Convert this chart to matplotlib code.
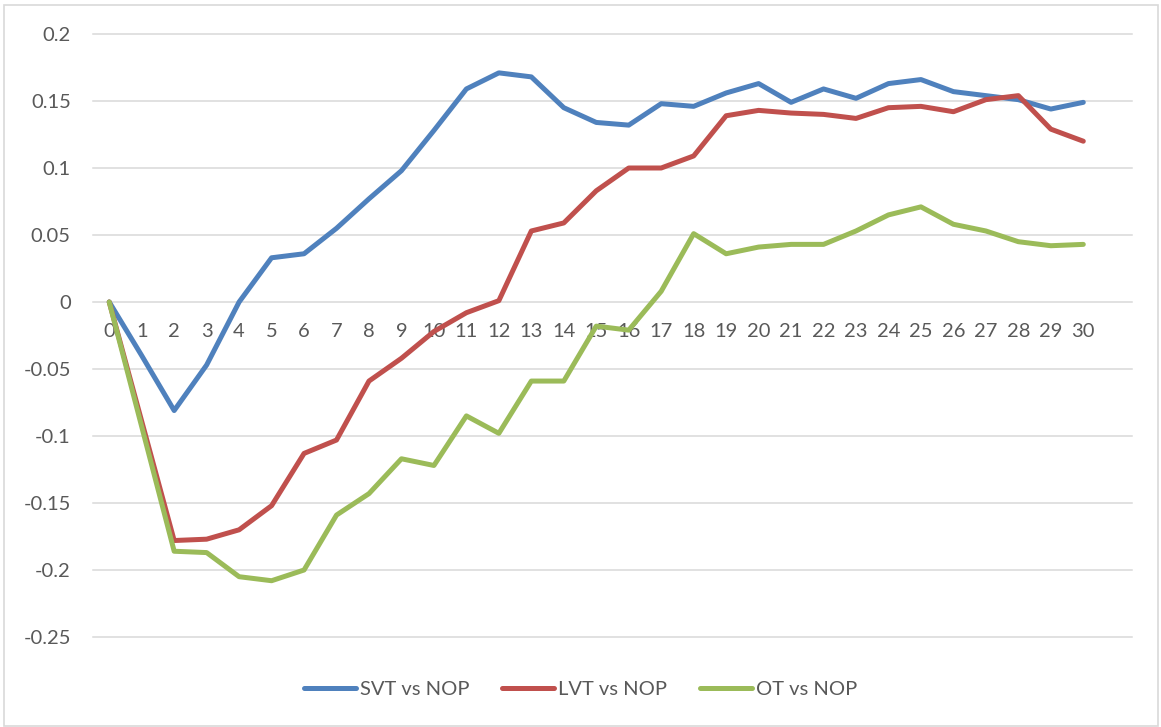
import matplotlib.pyplot as plt
from matplotlib.patches import Rectangle

BLUE = "#4F81BD"
RED = "#C0504D"
GREEN = "#9BBB59"
GRID = "#D9D9D9"
TEXT = "#595959"

periods = list(range(31))
svt_vs_nop = [0.0, -0.040, -0.081, -0.047, 0.000, 0.033, 0.036, 0.055, 0.077, 0.098,
              0.128, 0.159, 0.171, 0.168, 0.145, 0.134, 0.132, 0.148, 0.146, 0.156,
              0.163, 0.149, 0.159, 0.152, 0.163, 0.166, 0.157, 0.154, 0.151, 0.144,
              0.149]
lvt_vs_nop = [0.0, -0.089, -0.178, -0.177, -0.170, -0.152, -0.113, -0.103, -0.059, -0.042,
              -0.022, -0.008, 0.001, 0.053, 0.059, 0.083, 0.100, 0.100, 0.109, 0.139,
              0.143, 0.141, 0.140, 0.137, 0.145, 0.146, 0.142, 0.151, 0.154, 0.129,
              0.120]
ot_vs_nop = [0.0, -0.093, -0.186, -0.187, -0.205, -0.208, -0.200, -0.159, -0.143, -0.117,
             -0.122, -0.085, -0.098, -0.059, -0.059, -0.018, -0.021, 0.008, 0.051, 0.036,
             0.041, 0.043, 0.043, 0.053, 0.065, 0.071, 0.058, 0.053, 0.045, 0.042,
             0.043]
yticks = [-0.25, -0.2, -0.15, -0.1, -0.05, 0, 0.05, 0.1, 0.15, 0.2]
ytick_labels = ["-0.25", "-0.2", "-0.15", "-0.1", "-0.05", "0", "0.05", "0.1", "0.15", "0.2"]

plt.rcParams["font.family"] = ["Lato", "DejaVu Sans"]

W, H = 1161, 727
fig = plt.figure(figsize=(W / 100, H / 100), dpi=100, facecolor="white")
fig.patches.append(Rectangle((4 / W, 1 / H), 1154 / W, 721 / H, transform=fig.transFigure,
                             fill=False, edgecolor=GRID, linewidth=1.2))

ax = fig.add_axes([93 / W, 1 - 637 / H, 1039 / W, 603 / H])
ax.set_xlim(-0.5, 31.5)
ax.set_ylim(-0.25, 0.2)

for y in yticks:
    ax.axhline(y, color=GRID, linewidth=1.1, zorder=0, clip_on=False)

kw = dict(linewidth=3.6, solid_capstyle="round", solid_joinstyle="round")
ax.plot(periods, svt_vs_nop, color=BLUE, label="SVT vs NOP", zorder=3, **kw)
ax.plot(periods, lvt_vs_nop, color=RED, label="LVT vs NOP", zorder=3, **kw)
ax.plot(periods, ot_vs_nop, color=GREEN, label="OT vs NOP", zorder=3, **kw)

for s in ax.spines.values():
    s.set_visible(False)
ax.spines["bottom"].set_position(("data", 0))

ax.set_yticks(yticks)
ax.set_yticklabels(ytick_labels)
ax.set_xticks(periods)
ax.set_xticklabels([str(p) for p in periods])
ax.tick_params(axis="y", length=0, pad=16, labelsize=14.5, colors=TEXT)
ax.tick_params(axis="x", length=0, pad=15, labelsize=14.5, colors=TEXT)

leg = fig.legend(loc="center", bbox_to_anchor=(0.5, 1 - 689 / H), ncol=3, frameon=False,
                 fontsize=14.5, handlelength=2.6, handletextpad=0.2, columnspacing=1.6)
for t in leg.get_texts():
    t.set_color(TEXT)

fig.savefig("out.png", dpi=100, facecolor="white")
